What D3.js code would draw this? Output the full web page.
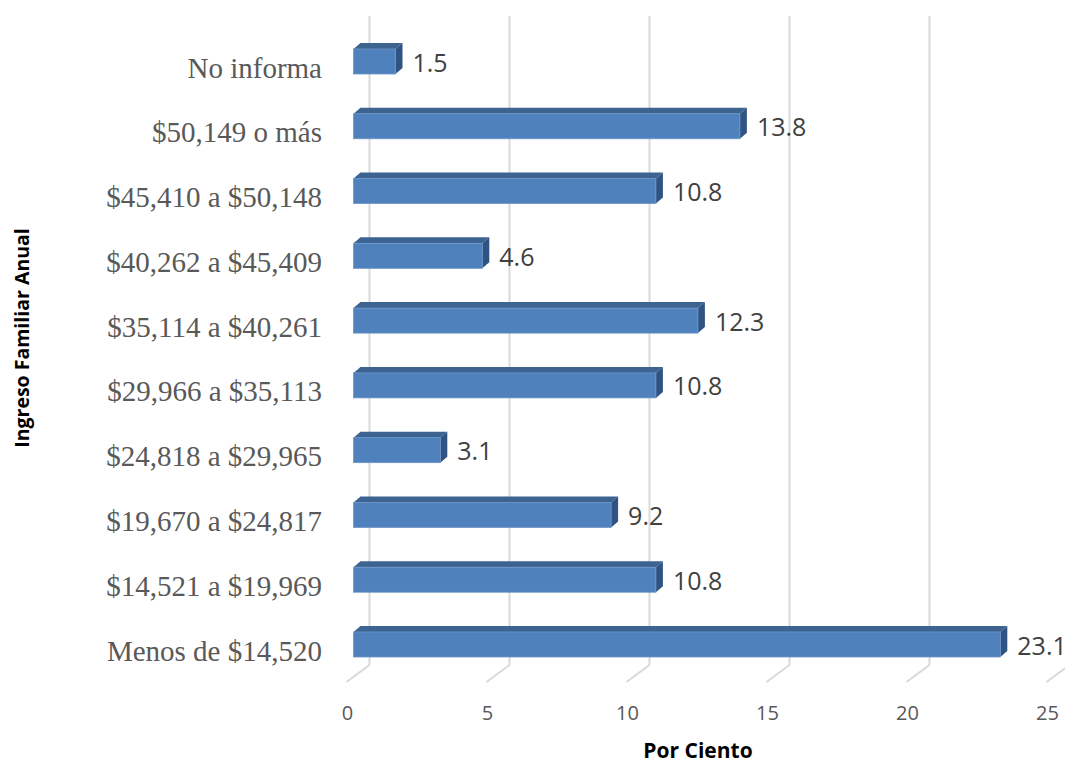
<!DOCTYPE html>
<html>
<head>
<meta charset="utf-8">
<script src="https://cdn.jsdelivr.net/npm/d3@7/dist/d3.min.js"></script>
<style>
  html, body { margin: 0; padding: 0; background: #ffffff; }
  svg { display: block; }
</style>
</head>
<body>
<svg id="chart" width="1065" height="762"></svg>
<script>
// Income brackets, listed top to bottom as drawn
const categories = [
  "No informa",
  "$50,149 o más",
  "$45,410 a $50,148",
  "$40,262 a $45,409",
  "$35,114 a $40,261",
  "$29,966 a $35,113",
  "$24,818 a $29,965",
  "$19,670 a $24,817",
  "$14,521 a $19,969",
  "Menos de $14,520"
];
// Percentage of families in each bracket
const values = [1.5, 13.8, 10.8, 4.6, 12.3, 10.8, 3.1, 9.2, 10.8, 23.1];
const ticks = [0, 5, 10, 15, 20, 25];

const svg = d3.select("#chart");

// Front plane of the bars
const x = d3.scaleLinear().domain([0, 25]).range([353.5, 1053.5]);
const y = d3.scalePoint().domain(categories).range([61.5, 644.5]);

// 3D offsets: back wall, floor front edge, bar depth
const wallDx = 16, floorTop = 665, floorDx = -7, floorBottom = 682;
const depthX = 7, depthY = -6, barH = 25;

// Back-wall gridlines and the floor lines running toward the viewer
const grid = svg.append("g");
ticks.forEach(t => {
  const gx = x(t) + wallDx;
  grid.append("line")
    .attr("x1", gx).attr("x2", gx)
    .attr("y1", 16).attr("y2", floorTop)
    .attr("stroke", "#d9d9d9").attr("stroke-width", 2);
  grid.append("line")
    .attr("x1", gx).attr("y1", floorTop)
    .attr("x2", x(t) + floorDx).attr("y2", floorBottom)
    .attr("stroke", "#d9d9d9").attr("stroke-width", 2);
});

// Tick labels along the floor edge
svg.append("g").selectAll("text").data(ticks).join("text")
  .attr("x", d => x(d) - 6)
  .attr("y", 720)
  .attr("text-anchor", "middle")
  .attr("font-family", "'Open Sans', sans-serif")
  .attr("font-size", 20)
  .attr("fill", "#595959")
  .text(d => d);

// Bars: top face, side face and front face
const bars = svg.append("g").selectAll("g").data(categories).join("g");
bars.each(function(c, i) {
  const g = d3.select(this);
  const x0 = x(0), x1 = x(values[i]);
  const yt = y(c) - barH / 2, yb = y(c) + barH / 2;
  g.append("path")
    .attr("d", `M${x0},${yt} L${x0 + depthX},${yt + depthY} L${x1 + depthX},${yt + depthY} L${x1},${yt} Z`)
    .attr("fill", "#3d6391");
  g.append("path")
    .attr("d", `M${x1},${yt} L${x1 + depthX},${yt + depthY} L${x1 + depthX},${yb + depthY} L${x1},${yb} Z`)
    .attr("fill", "#2f5382");
  g.append("rect")
    .attr("x", x0).attr("y", yt)
    .attr("width", x1 - x0).attr("height", barH)
    .attr("fill", "#4f81bd")
    .attr("stroke", "#6b95c9").attr("stroke-width", 0.8);
});

// Value labels
svg.append("g").selectAll("text").data(categories).join("text")
  .attr("x", (c, i) => x(values[i]) + 17)
  .attr("y", c => y(c) + 10)
  .attr("font-family", "'Open Sans', sans-serif")
  .attr("font-size", 25)
  .attr("fill", "#404040")
  .text((c, i) => values[i].toFixed(1));

// Category labels
svg.append("g").selectAll("text").data(categories).join("text")
  .attr("x", 322)
  .attr("y", c => y(c) + 16)
  .attr("text-anchor", "end")
  .attr("font-family", "'Liberation Serif', 'Times New Roman', serif")
  .attr("font-size", 29)
  .attr("fill", "#595959")
  .text(c => c);

// Axis titles
svg.append("text")
  .attr("x", 698).attr("y", 758)
  .attr("text-anchor", "middle")
  .attr("font-family", "'Open Sans', sans-serif")
  .attr("font-weight", "bold")
  .attr("font-size", 21)
  .attr("fill", "#000000")
  .text("Por Ciento");

svg.append("text")
  .attr("transform", "translate(29,338) rotate(-90)")
  .attr("text-anchor", "middle")
  .attr("font-family", "'Open Sans', sans-serif")
  .attr("font-weight", "bold")
  .attr("font-size", 19.5)
  .attr("fill", "#000000")
  .text("Ingreso Familiar Anual");
</script>
</body>
</html>
